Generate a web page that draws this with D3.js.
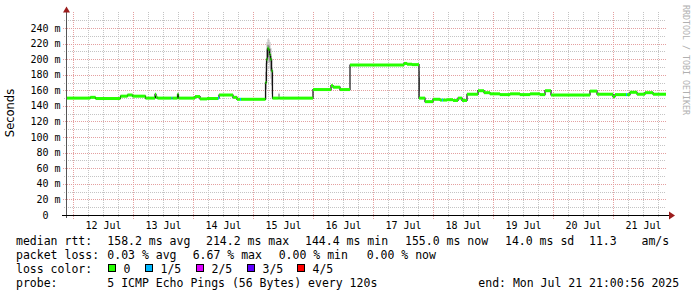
<!DOCTYPE html>
<html><head><meta charset="utf-8">
<script src="https://cdn.jsdelivr.net/npm/d3@7"></script>
<style>
body{margin:0;background:#fff}
svg{display:block}
text{font-family:"DejaVu Sans Mono",monospace;white-space:pre}
</style>
</head><body>
<svg id="c" width="697" height="297"></svg>
<script>
// ---------- DATA ----------
// hours since start of graph (end minus 10 days), median RTT in ms, loss index (0..4)
const hours   = [0,9.7,11.8,21.8,24.6,26.6,31.8,35.6,36.0,36.6,42.2,42.6,44.6,45.0,51.6,53.6,56.4,60.8,61.2,66.8,68.4,69.6,70.0,
                 79.8,80.2,80.6,81.0,81.4,81.8,82.2,82.6,85.0,85.4,98.8,106.0,106.8,109.6,113.6,135.2,136.4,138.4,141.2,143.6,
                 146.8,149.6,150.4,150.8,152.4,154.8,156.8,158.4,160.4,164.8,167.2,169.6,173.6,177.6,181.6,185.6,189.6,191.6,
                 194.0,201.6,209.6,212.4,218.8,219.6,224.0,224.4,225.6,228.4,231.6,234.8];
const medianMs= [150,151,149.5,152.5,154,152.5,150,155,151,150,150,150,155,150,152,149,149.5,150,154,151,148.5,148.5,148.5,
                 170,200,214,212,206,200,185,150,150,150,161,166,164,161,192.5,194.5,193.5,193,150,145.5,
                 148.5,147.5,147.5,147.5,148,147,150,147,155,159.5,157,155.5,154.5,155.5,154.5,155.5,154.5,159.5,
                 154,154,159,155,152,154.5,154.5,154.5,157.5,155,157,155];
const lossIdx = [0,0,0,0,0,0,0,0,0,0,1,0,0,0,0,0,0,1,0,0,0,1,0,
                 0,0,0,0,0,0,0,0,0,0,0,0,0,0,0,0,0,0,0,0,
                 0,0,1,0,0,0,0,0,0,0,0,0,0,0,0,0,0,0,
                 0,0,0,0,0,0,1,0,0,0,0,0];
const totalHours = 240;
// smoke (spread of the individual pings) where it shows outside the median band
const smokeHours = [35.6,44.6,79.8,80.2,80.6,81.0,81.4,81.8,82.2,85.0,141.2];
const smokeMinMs = [150,150,150,185,195,195,188,175,155,150,150];
const smokeMaxMs = [156,156,195,222,226,225,222,214,200,157,185];

const yTickValues = [0,20,40,60,80,100,120,140,160,180,200,220,240];
const yMinorValues = [10,30,50,70,90,110,130,150,170,190,210,230,250];
const lossLabels = ["0","1/5","2/5","3/5","4/5"];
const lossColors = ["#26ff00","#00b8ff","#dd00ff","#5e00ff","#ff0000"];

const legendRtt   = ["median rtt:","158.2 ms avg","214.2 ms max","144.4 ms min","155.0 ms now","14.0 ms sd","11.3","am/s"];
const legendLoss  = ["packet loss:","0.03 % avg","6.67 % max","0.00 % min","0.00 % now"];
const legendColor = "loss color:";
const legendProbe = ["probe:","5 ICMP Echo Pings (56 Bytes) every 120s","end: Mon Jul 21 21:00:56 2025"];
const yTitle = "Seconds";
const watermark = "RRDTOOL / TOBI OETIKER";

// ---------- SCALES ----------
const endT = Date.UTC(2025,6,21,21,0,56);
const startT = endT - totalHours*3600e3;
const x = d3.scaleUtc().domain([new Date(startT), new Date(endT)]).range([66, 666]);
const y = d3.scaleLinear().domain([0,260]).range([215, 215-260*187/240]);
const tAt = h => new Date(startT + h*3600e3);
const px = v => Math.round(v)+0.5;

const svg = d3.select("#c");
svg.append("rect").attr("width",697).attr("height",297).attr("fill","#fff");

// ---------- GRID ----------
const g = svg.append("g");
const minorV = d3.utcHour.every(6).range(new Date(startT), new Date(endT)).filter(d=>d.getUTCHours()!==0);
const majorV = d3.utcDay.range(new Date(startT), new Date(endT));
g.selectAll(".hm").data(yMinorValues).join("line")
  .attr("x1",64).attr("x2",666).attr("y1",d=>px(y(d))).attr("y2",d=>px(y(d)))
  .attr("stroke","#c4c4c4").attr("stroke-dasharray","1,1");
g.selectAll(".vm").data(minorV).join("line")
  .attr("x1",d=>px(x(d))).attr("x2",d=>px(x(d))).attr("y1",217).attr("y2",12)
  .attr("stroke","#c4c4c4").attr("stroke-dasharray","1,1");
g.selectAll(".hM").data(yTickValues.filter(d=>d>0)).join("line")
  .attr("x1",63).attr("x2",666).attr("y1",d=>px(y(d))).attr("y2",d=>px(y(d)))
  .attr("stroke","#e4a0a0").attr("stroke-dasharray","1,1");
g.selectAll(".vM").data(majorV).join("line")
  .attr("x1",d=>px(x(d))).attr("x2",d=>px(x(d))).attr("y1",219).attr("y2",12)
  .attr("stroke","#e4a0a0").attr("stroke-dasharray","1,1");

// ---------- SMOKE ----------
const sm = svg.append("g");
sm.selectAll("rect.o").data(smokeHours).join("rect")
  .attr("x",d=>x(tAt(d))).attr("width",d=>x(tAt(d+0.4))-x(tAt(d)))
  .attr("y",(d,i)=>y(smokeMaxMs[i])).attr("height",(d,i)=>y(smokeMinMs[i])-y(smokeMaxMs[i]))
  .attr("fill","#bdbdbd");
sm.selectAll("rect.i").data(smokeHours).join("rect")
  .attr("x",d=>x(tAt(d))).attr("width",d=>x(tAt(d+0.4))-x(tAt(d)))
  .attr("y",(d,i)=>y(smokeMaxMs[i]-(smokeMaxMs[i]-smokeMinMs[i])/4))
  .attr("height",(d,i)=>(y(smokeMinMs[i])-y(smokeMaxMs[i]))/2)
  .attr("fill","#7a7a7a");

// ---------- MEDIAN ----------
const pts = hours.map((h,i)=>[h,medianMs[i]]).concat([[totalHours, medianMs[medianMs.length-1]]]);
svg.append("path").datum(pts)
  .attr("d", d3.line().x(d=>x(tAt(d[0]))).y(d=>y(d[1])).curve(d3.curveStepAfter))
  .attr("fill","none").attr("stroke","#111").attr("stroke-width",1.2);
svg.append("g").selectAll("rect").data(hours).join("rect")
  .attr("x",d=>x(tAt(d)))
  .attr("width",(d,i)=>x(tAt(i+1<hours.length?hours[i+1]:totalHours))-x(tAt(d)))
  .attr("y",(d,i)=>y(medianMs[i])-1.5).attr("height",3)
  .attr("fill",(d,i)=>lossColors[lossIdx[i]]);

// ---------- AXES ----------
svg.append("line").attr("x1",66.5).attr("x2",66.5).attr("y1",218).attr("y2",11).attr("stroke","#555");
svg.append("line").attr("x1",62).attr("x2",670).attr("y1",215.5).attr("y2",215.5).attr("stroke","#000");
svg.append("path").attr("d","M63,12.5L70,12.5L66.5,6.5Z").attr("fill","#9b1c1c");
svg.append("path").attr("d","M669,211.5L669,219.5L675,215.5Z").attr("fill","#9b1c1c");
svg.selectAll("text.yl").data(yTickValues).join("text")
  .attr("x",d=>d===0?48.5:60.5).attr("y",d=>y(d)+3.5).attr("text-anchor","end")
  .attr("font-size","10px").attr("fill","#000")
  .text(d=>d===0?"0":d+" m");
svg.selectAll("text.xl").data(majorV).join("text")
  .attr("x",d=>x(d3.utcHour.offset(d,12))).attr("y",229).attr("text-anchor","middle")
  .attr("font-size","10px").attr("fill","#000")
  .text(d=>d3.utcFormat("%d %b")(d));
svg.append("text").attr("transform","translate(14,113) rotate(-90)").attr("text-anchor","middle")
  .style("font-family","'DejaVu Sans',sans-serif").attr("font-size","11.5px").text(yTitle);
svg.append("text").attr("transform","translate(683,5) rotate(90)")
  .attr("font-size","8.3px").attr("fill","#b0b0b0").text(watermark);

// ---------- LEGEND ----------
const fs = "11.5px";
const rttX = [16,107.3,206,305,405,505,589,641.5];
legendRtt.forEach((t,i)=>svg.append("text").attr("x",rttX[i]).attr("y",245).attr("font-size",fs).text(t));
const lossX = [16,107.3,192.7,278.7,366.7];
legendLoss.forEach((t,i)=>svg.append("text").attr("x",lossX[i]).attr("y",259).attr("font-size",fs).text(t));
svg.append("text").attr("x",16).attr("y",273).attr("font-size",fs).text(legendColor);
const boxX = [108.5,145.5,196.5,247.5,297.5];
lossLabels.forEach((t,i)=>{
  svg.append("rect").attr("x",boxX[i]).attr("y",264.5).attr("width",7).attr("height",7)
    .attr("fill",lossColors[i]).attr("stroke","#000");
  svg.append("text").attr("x",boxX[i]+15).attr("y",273).attr("font-size",fs).text(t);
});
const probeX = [16,107.3,478.3];
legendProbe.forEach((t,i)=>svg.append("text").attr("x",probeX[i]).attr("y",287).attr("font-size",fs).text(t));
</script>
</body></html>
